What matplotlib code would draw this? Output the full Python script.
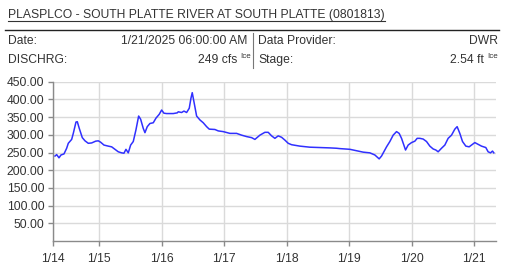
import matplotlib
matplotlib.use("Agg")
import matplotlib.pyplot as plt
from matplotlib.lines import Line2D

plt.rcParams['font.family'] = ['Liberation Sans', 'DejaVu Sans']

# time in days after 1/14 00:00, discharge in cfs
days = [0.291, 0.318, 0.355, 0.387, 0.435, 0.478, 0.504, 0.558, 0.584, 0.627,
        0.648, 0.680, 0.728, 0.771, 0.824, 0.878, 0.942, 0.984, 1.022, 1.075,
        1.144, 1.198, 1.251, 1.304, 1.358, 1.395, 1.427, 1.464, 1.502, 1.544,
        1.587, 1.630, 1.662, 1.704, 1.731, 1.768, 1.811, 1.864, 1.907, 1.960,
        1.998, 2.035, 2.078, 2.184, 2.248, 2.264, 2.318, 2.355, 2.398, 2.440,
        2.467, 2.488, 2.515, 2.558, 2.611, 2.664, 2.718, 2.760, 2.851, 2.904,
        2.984, 3.091, 3.198, 3.278, 3.358, 3.438, 3.491, 3.571, 3.651, 3.704,
        3.758, 3.811, 3.864, 3.918, 3.971, 4.024, 4.078, 4.211, 4.371, 4.531,
        4.691, 4.798, 4.851, 5.011, 5.118, 5.224, 5.331, 5.411, 5.480, 5.518,
        5.555, 5.598, 5.651, 5.704, 5.758, 5.800, 5.838, 5.875, 5.902, 5.944,
        5.998, 6.051, 6.088, 6.131, 6.184, 6.238, 6.291, 6.344, 6.387, 6.424,
        6.478, 6.531, 6.584, 6.638, 6.691, 6.728, 6.771, 6.814, 6.867, 6.920,
        6.974, 7.011, 7.064, 7.118, 7.187, 7.224, 7.262, 7.294, 7.315]
cfs = [240, 244, 235, 243, 246, 262, 276, 287, 304, 336,
       337, 318, 292, 283, 276, 277, 282, 283, 279, 271,
       268, 266, 259, 252, 249, 248, 259, 249, 271, 281,
       314, 353, 344, 318, 306, 323, 332, 334, 347, 358,
       370, 361, 360, 360, 362, 365, 363, 367, 363, 375,
       403, 419, 394, 353, 342, 334, 323, 316, 315, 311,
       309, 304, 304, 299, 295, 292, 287, 299, 307, 307,
       297, 290, 297, 293, 285, 276, 272, 268, 265, 264,
       263, 262, 261, 259, 255, 251, 249, 243, 232, 240,
       252, 266, 281, 299, 309, 304, 290, 271, 257, 271,
       278, 282, 290, 290, 288, 281, 268, 260, 257, 252,
       262, 271, 290, 299, 316, 323, 304, 281, 268, 266,
       273, 278, 273, 268, 264, 252, 249, 254, 249]

x_start = 0.264
x_end = 7.35
tick_days = [x_start, 1, 2, 3, 4, 5, 6, 7]
tick_labels = ['1/14', '1/15', '1/16', '1/17', '1/18', '1/19', '1/20', '1/21']
y_ticks = [50, 100, 150, 200, 250, 300, 350, 400, 450]

title = 'PLASPLCO - SOUTH PLATTE RIVER AT SOUTH PLATTE (0801813)'

W, H = 505, 270
fig = plt.figure(figsize=(W / 100, H / 100), dpi=100)


def fx(x):
    return x / W


def fy(y):
    return 1 - y / H


txt = '#333333'
fs = 8.7

t = fig.text(fx(8), fy(15), title, fontsize=fs, color=txt, va='center', ha='left')
fig.add_artist(Line2D([fx(5), fx(499)], [fy(29.5), fy(29.5)], color='#222222', lw=1.0))
fig.add_artist(Line2D([fx(252.5), fx(252.5)], [fy(33), fy(68)], color='#777777', lw=0.8))

fig.text(fx(8), fy(41), 'Date:', fontsize=fs, color=txt, va='center')
fig.text(fx(247), fy(41), '1/21/2025 06:00:00 AM', fontsize=fs, color=txt, va='center', ha='right')
fig.text(fx(8), fy(60), 'DISCHRG:', fontsize=fs, color=txt, va='center')
fig.text(fx(237), fy(60), '249 cfs', fontsize=fs, color=txt, va='center', ha='right')
fig.text(fx(240), fy(56), 'Ice', fontsize=5.8, color=txt, va='center', ha='left')

fig.text(fx(258), fy(41), 'Data Provider:', fontsize=fs, color=txt, va='center')
fig.text(fx(498), fy(41), 'DWR', fontsize=fs, color=txt, va='center', ha='right')
fig.text(fx(258), fy(60), 'Stage:', fontsize=fs, color=txt, va='center')
fig.text(fx(484), fy(60), '2.54 ft', fontsize=fs, color=txt, va='center', ha='right')
fig.text(fx(487), fy(56), 'Ice', fontsize=5.8, color=txt, va='center', ha='left')

ax = fig.add_axes([fx(53.3), fy(241), fx(496) - fx(53.3), fy(81.7) - fy(241)])
ax.plot(days, cfs, color='#3030ff', lw=1.1)

ax.set_xlim(x_start, x_end)
ax.set_ylim(0, 450)
ax.set_xticks(tick_days)
ax.set_xticklabels(tick_labels)
ax.set_yticks(y_ticks)
ax.set_yticklabels([f'{v:.2f}' for v in y_ticks])
ax.grid(True, color='#dadada', lw=1.0)
ax.set_axisbelow(True)
for s in ['top', 'right']:
    ax.spines[s].set_visible(False)
for s in ['left', 'bottom']:
    ax.spines[s].set_color('#8a8a8a')
    ax.spines[s].set_linewidth(1.0)
ax.tick_params(axis='both', colors='#8a8a8a', labelcolor=txt, labelsize=8.7, length=3.5, width=1.0)
ax.tick_params(axis='x', pad=5)
ax.tick_params(axis='y', pad=3)

fig.canvas.draw()
bb = t.get_window_extent()
fig.add_artist(Line2D([bb.x0 / W, bb.x1 / W], [fy(21), fy(21)], color=txt, lw=0.8))

fig.savefig('out.png', dpi=100)
